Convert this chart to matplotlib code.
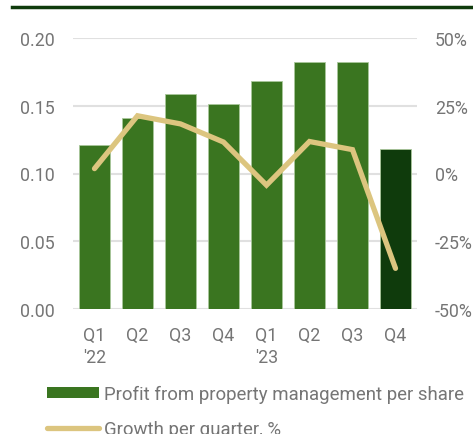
import matplotlib.pyplot as plt
from matplotlib.lines import Line2D
from matplotlib.patches import Patch
from matplotlib.ticker import FuncFormatter

plt.rcParams['font.family'] = ['Roboto', 'DejaVu Sans']

quarters = ["Q1\n'22", "Q2", "Q3", "Q4", "Q1\n'23", "Q2", "Q3", "Q4"]
profit = [0.121, 0.141, 0.159, 0.151, 0.168, 0.182, 0.182, 0.118]
growth = [1.8, 21.3, 18.3, 11.6, -4.3, 11.8, 8.8, -35.0]

bar_green = '#3a7520'
dark_green = '#0f3b0c'
tan = '#dcc57f'
gray = '#757575'

W, H = 473, 435
fig = plt.figure(figsize=(W / 100, H / 100), dpi=100)
ax = fig.add_axes([73 / W, (H - 310) / H, (417 - 73) / W, (310 - 39) / H])

colors = [bar_green] * (len(profit) - 1) + [dark_green]
x = range(len(profit))
ax.bar(x, profit, width=0.72, color=colors, edgecolor='#a9c79a', linewidth=0.6, zorder=2)
ax.set_ylim(0, 0.2)
ax.set_xlim(-0.5, len(profit) - 0.5)
ax.set_yticks([0, 0.05, 0.10, 0.15, 0.20])
ax.yaxis.set_major_formatter(FuncFormatter(lambda v, p: f'{v:.2f}'))
ax.grid(axis='y', color='#e0e0e0', linewidth=1.5, zorder=0)
ax.set_xticks(list(x))
ax.set_xticklabels(quarters, linespacing=1.3)
ax.tick_params(length=0, labelsize=12.8, colors=gray, pad=13)
ax.tick_params(axis='x', pad=12)
for s in ax.spines.values():
    s.set_visible(False)

ax2 = ax.twinx()
ax2.plot(list(x), growth, color=tan, linewidth=3.8, solid_capstyle='round', solid_joinstyle='miter', zorder=3)
ax2.set_ylim(-50, 50)
ax2.set_yticks([-50, -25, 0, 25, 50])
ax2.yaxis.set_major_formatter(FuncFormatter(lambda v, p: f'{v:.0f}%'))
ax2.tick_params(length=0, labelsize=12.8, colors=gray, pad=13)
for s in ax2.spines.values():
    s.set_visible(False)

fig.add_artist(Line2D([12 / W, 1], [1 - 8 / H, 1 - 8 / H], color=dark_green, linewidth=2.5))

handles = [Patch(facecolor=bar_green, edgecolor='none'),
           Line2D([0], [0], color=tan, linewidth=3.8, solid_capstyle='round')]
labels = ['Profit from property management per share', 'Growth per quarter, %']
fig.legend(handles, labels, loc='upper left', bbox_to_anchor=(30 / W, 1 - 369 / H),
           frameon=False, fontsize=13.4, labelcolor=gray, handlelength=2.8,
           handleheight=0.5, handletextpad=0.3, labelspacing=0.9)

fig.savefig('out.png', dpi=100)
